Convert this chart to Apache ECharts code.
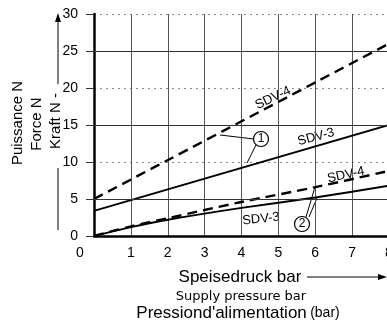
<!DOCTYPE html>
<html>
<head>
<meta charset="utf-8">
<script src="https://cdn.jsdelivr.net/npm/echarts@6/dist/echarts.min.js"></script>
<style>
  html, body { margin: 0; padding: 0; background: #fff; }
  #chart { width: 387px; height: 323px; }
</style>
</head>
<body>
<div id="chart"></div>
<script>
// Speisedruck (bar) -> Kraft (N)
var sdv4Upper = [[0, 5], [8, 26]];
var sdv3Upper = [[0, 3.4], [8, 15]];
var sdv4Lower = [[0, 0], [1, 1.3], [2, 2.4], [4, 4.6], [6, 6.6], [8, 8.8]];
var sdv3Lower = [[0, 0], [1, 1.2], [2, 2.2], [4, 3.8], [6, 5.2], [8, 6.8]];
var solidGridY = [5, 15, 25];

var font = 'Liberation Sans, Arial, sans-serif';
var chart = echarts.init(document.getElementById('chart'));

function lineSeries(data, dashed) {
  return {
    type: 'line',
    data: data,
    symbol: 'none',
    smooth: 0.3,
    silent: true,
    lineStyle: {
      color: '#000',
      width: dashed ? 2.4 : 2,
      type: dashed ? [10, 6] : 'solid'
    }
  };
}

var option = {
  animation: false,
  grid: { left: 94, top: 14, right: -2, bottom: 87, outerBoundsMode: 'none', containLabel: false },
  xAxis: {
    type: 'value', min: 0, max: 8, interval: 1,
    axisLine: { lineStyle: { color: '#000', width: 2.5 } },
    axisTick: { show: false },
    axisLabel: {
      color: '#000', fontSize: 14, fontFamily: font, margin: 10,
      formatter: function (v) { return v === 0 ? '{z|0}' : '' + v; },
      rich: { z: { fontSize: 14, fontFamily: font, color: '#000', padding: [0, 28, 0, 0] } }
    },
    splitLine: { lineStyle: { color: '#555', width: 1 } }
  },
  yAxis: {
    type: 'value', min: 0, max: 30, interval: 5,
    axisLine: { show: true, lineStyle: { color: '#000', width: 2.5 } },
    axisTick: { show: true, length: 8, lineStyle: { color: '#333' } },
    axisLabel: { color: '#000', fontSize: 14, fontFamily: font, margin: 16 },
    splitLine: { lineStyle: { color: '#888', width: 1, type: [2, 4] } }
  },
  series: [
    Object.assign(lineSeries(sdv4Upper, true), {
      markLine: {
        silent: true, symbol: 'none', label: { show: false },
        lineStyle: { color: '#333', width: 1, type: 'solid' },
        data: solidGridY.map(function (v) { return { yAxis: v }; })
      }
    }),
    lineSeries(sdv3Upper, false),
    lineSeries(sdv4Lower, true),
    lineSeries(sdv3Lower, false)
  ],
  graphic: [
    // y-axis titles
    { type: 'text', x: 18, y: 123, rotation: Math.PI / 2,
      style: { text: 'Puissance N', font: '15px ' + font, fill: '#000', align: 'center', verticalAlign: 'middle' } },
    { type: 'text', x: 37, y: 124, rotation: Math.PI / 2,
      style: { text: 'Force N', font: '15px ' + font, fill: '#000', align: 'center', verticalAlign: 'middle' } },
    { type: 'line', shape: { x1: 58, y1: 230, x2: 58, y2: 168 }, style: { stroke: '#000', lineWidth: 1 } },
    { type: 'line', shape: { x1: 58, y1: 84, x2: 58, y2: 20 }, style: { stroke: '#000', lineWidth: 1 } },
    { type: 'polygon', shape: { points: [[58, 13], [55, 22], [61, 22]] }, style: { fill: '#000' } },
    { type: 'text', x: 56, y: 121, rotation: Math.PI / 2,
      style: { text: 'Kraft N -', font: '15px ' + font, fill: '#000', align: 'center', verticalAlign: 'middle', backgroundColor: '#fff' } },
    // x-axis titles
    { type: 'text', x: 240, y: 277,
      style: { text: 'Speisedruck bar', font: '17px ' + font, fill: '#000', align: 'center', verticalAlign: 'middle' } },
    { type: 'line', shape: { x1: 307, y1: 277, x2: 380, y2: 277 }, style: { stroke: '#000', lineWidth: 1 } },
    { type: 'polygon', shape: { points: [[387, 277], [378, 274], [378, 280]] }, style: { fill: '#000' } },
    { type: 'text', x: 241, y: 297,
      style: { text: 'Supply pressure bar', font: '13px DejaVu Sans, sans-serif', fill: '#000', align: 'center', verticalAlign: 'middle' } },
    { type: 'text', x: 238, y: 313,
      style: {
        text: "{a|Pressiond'alimentation} {b|(bar)}", align: 'center', verticalAlign: 'middle',
        rich: {
          a: { fontSize: 17, fontFamily: font, fill: '#000' },
          b: { fontSize: 14, fontFamily: font, fill: '#000' }
        }
      } },
    // curve labels
    { type: 'text', x: 273, y: 98, rotation: 25 * Math.PI / 180,
      style: { text: 'SDV-4', font: '13px ' + font, fill: '#000', align: 'center', verticalAlign: 'middle' } },
    { type: 'text', x: 316, y: 137, rotation: 15 * Math.PI / 180,
      style: { text: 'SDV-3', font: '13px ' + font, fill: '#000', align: 'center', verticalAlign: 'middle' } },
    { type: 'text', x: 346, y: 175, rotation: 12 * Math.PI / 180,
      style: { text: 'SDV-4', font: '13px ' + font, fill: '#000', align: 'center', verticalAlign: 'middle' } },
    { type: 'text', x: 261, y: 219, rotation: 6 * Math.PI / 180,
      style: { text: 'SDV-3', font: '13px ' + font, fill: '#000', align: 'center', verticalAlign: 'middle' } },
    // callouts
    { type: 'line', shape: { x1: 254, y1: 139, x2: 220, y2: 135 }, style: { stroke: '#000', lineWidth: 1 } },
    { type: 'line', shape: { x1: 256, y1: 145, x2: 247, y2: 163 }, style: { stroke: '#000', lineWidth: 1 } },
    { type: 'circle', shape: { cx: 261, cy: 139, r: 7.5 }, style: { fill: '#fff', stroke: '#000', lineWidth: 1.2 } },
    { type: 'text', x: 261, y: 139,
      style: { text: '1', font: '12px ' + font, fill: '#000', align: 'center', verticalAlign: 'middle' } },
    { type: 'line', shape: { x1: 306, y1: 217, x2: 315, y2: 187 }, style: { stroke: '#000', lineWidth: 1 } },
    { type: 'line', shape: { x1: 309, y1: 217, x2: 317, y2: 198 }, style: { stroke: '#000', lineWidth: 1 } },
    { type: 'circle', shape: { cx: 302, cy: 224, r: 7.5 }, style: { fill: '#fff', stroke: '#000', lineWidth: 1.2 } },
    { type: 'text', x: 302, y: 224,
      style: { text: '2', font: '12px ' + font, fill: '#000', align: 'center', verticalAlign: 'middle' } }
  ]
};
chart.setOption(option);
</script>
</body>
</html>
